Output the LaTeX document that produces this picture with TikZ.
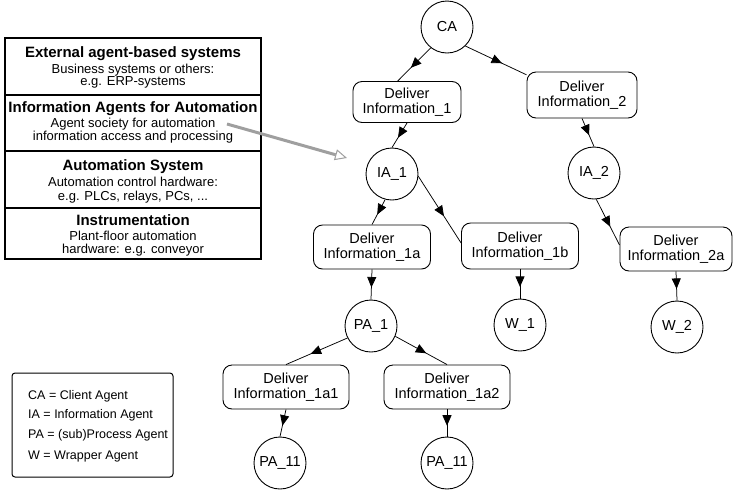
\documentclass[tikz,border=0pt]{standalone}
\usepackage{fontspec}
\setmainfont{Liberation Sans}
\usetikzlibrary{arrows.meta,decorations.markings}
\begin{document}
\begin{tikzpicture}[x=1pt,y=-1pt,
  agent/.style={circle,draw,line width=0.9pt,minimum size=52pt,inner sep=0pt,
    font=\fontsize{14.5}{15}\selectfont},
  task/.style={rectangle,rounded corners=9pt,draw,line width=0.9pt,align=center,
    inner sep=0pt,font=\fontsize{14.5}{14.5}\selectfont},
  flow/.style={line width=0.75pt,postaction={decorate},
    decoration={markings,mark=at position 0.6 with {\arrow{Triangle[length=10.5pt,width=9pt]}}}},
  ttl/.style={anchor=base,inner sep=0pt,font=\bfseries\fontsize{15}{15}\selectfont},
  sub/.style={anchor=base,inner sep=0pt,font=\fontsize{13}{13}\selectfont},
  leg/.style={anchor=base west,inner sep=0pt,font=\fontsize{12.5}{12.5}\selectfont},
]
\useasboundingbox (0,0) rectangle (733,491);

% ---------- layer table ----------
\draw[line width=1.2pt] (5,38) rectangle (261,259);
\draw[line width=1.2pt] (5,95) -- (261,95);
\draw[line width=1.2pt] (5,151) -- (261,151);
\draw[line width=1.2pt] (5,208) -- (261,208);

\node[ttl] (t1) at (133,57) {External agent-based systems};
\node[sub] (t1a) at (133,73.5) {Business systems or others:};
\node[sub] (t1b) at (133,85.5) {e.g. ERP-systems};

\node[ttl] (t2) at (133,112) {Information Agents for Automation};
\node[sub] (t2a) at (133,127.5) {Agent society for automation};
\node[sub] (t2b) at (133,140.5) {information access and processing};

\node[ttl] (t3) at (133,170) {Automation System};
\node[sub] (t3a) at (133,186.5) {Automation control hardware:};
\node[sub] (t3b) at (133,200) {e.g. PLCs, relays, PCs, ...};

\node[ttl] (t4) at (133,225) {Instrumentation};
\node[sub] (t4a) at (133,240) {Plant-floor automation};
\node[sub] (t4b) at (133,253) {hardware: e.g. conveyor};

% ---------- legend ----------
\draw[line width=1pt,rounded corners=3pt] (12,373) rectangle (173,477);
\node[leg] (l1) at (28,399.5) {CA = Client Agent};
\node[leg] (l2) at (28,418.5) {IA = Information Agent};
\node[leg] (l3) at (28,438) {PA = (sub)Process Agent};
\node[leg] (l4) at (28,459) {W = Wrapper Agent};

% ---------- agent tree ----------
\node[agent] (CA) at (447,27) {CA};
\node[task,minimum width=108pt,minimum height=41pt] (DI1) at (407,102) {Deliver\\Information\_1};
\node[task,minimum width=110pt,minimum height=46pt] (DI2) at (582,95) {Deliver\\Information\_2};
\node[agent] (IA1) at (392,174) {IA\_1};
\node[agent] (IA2) at (594,173) {IA\_2};
\node[task,minimum width=117pt,minimum height=44pt] (DI1a) at (372,247) {Deliver\\Information\_1a};
\node[task,minimum width=117pt,minimum height=46pt] (DI1b) at (520,246) {Deliver\\Information\_1b};
\node[task,minimum width=112pt,minimum height=44pt] (DI2a) at (676,249) {Deliver\\Information\_2a};
\node[agent] (PA1) at (371,326) {PA\_1};
\node[agent] (W1) at (520,325) {W\_1};
\node[agent] (W2) at (677,327) {W\_2};
\node[task,minimum width=126pt,minimum height=44pt] (DI1a1) at (286,387) {Deliver\\Information\_1a1};
\node[task,minimum width=126pt,minimum height=44pt] (DI1a2) at (447,387) {Deliver\\Information\_1a2};
\node[agent] (PA11a) at (280,463) {PA\_11};
\node[agent] (PA11b) at (447,463) {PA\_11};

\draw[flow] (CA.232) -- (DI1.114);
\draw[flow] (CA.-46) -- (DI2.160);
\draw[flow] (DI1.south) -- (IA1.north);
\draw[flow] (DI2.south) -- (IA2.north);
\draw[flow] (IA1.255) -- (DI1a.north);
\draw[flow] (IA1.-5) -- (DI1b.177);
\draw[flow] (IA2.-85) -- (DI2a.176);
\draw[flow] (DI1a.south) -- (PA1.north);
\draw[flow] (DI1b.south) -- (W1.north);
\draw[flow] (DI2a.south) -- (W2.north);
\draw[flow] (PA1.207) -- (DI1a1.north);
\draw[flow] (PA1.-23) -- (DI1a2.north);
\draw[flow] (DI1a1.south) -- (PA11a.north);
\draw[flow] (DI1a2.south) -- (PA11b.north);

% ---------- gray pointer ----------
\coordinate (gA) at (227,124);
\coordinate (gB) at (347,158);
\draw[gray!75,line width=3pt,
  -{Triangle[open,length=12pt,width=11pt,line width=1pt]}] (gA) -- (gB);
\end{tikzpicture}
\end{document}
